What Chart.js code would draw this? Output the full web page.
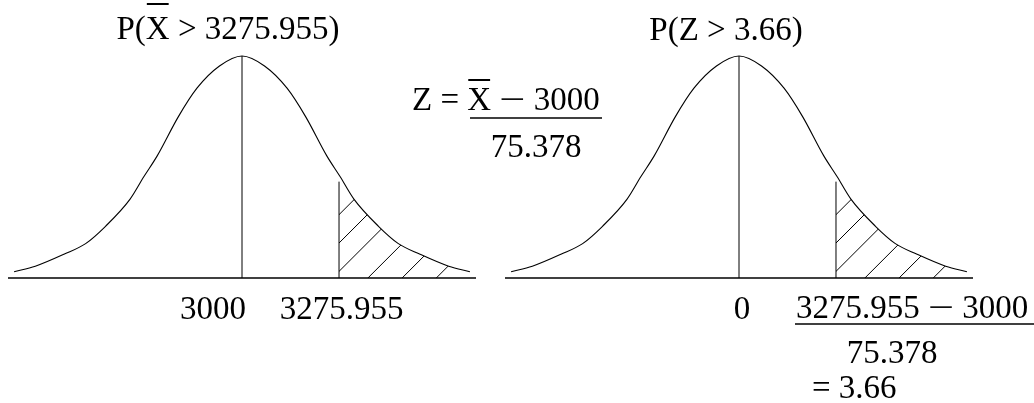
<!DOCTYPE html>
<html>
<head>
<meta charset="utf-8">
<script src="https://cdn.jsdelivr.net/npm/chart.js@4/dist/chart.umd.min.js"></script>
<style>
    body { margin: 0; background: #fff; }
    #wrap { position: relative; width: 1034px; height: 403px; overflow: hidden; }
    .panel { position: absolute; top: 0; }
    #leftPanel { left: 0; }
    #rightPanel { left: 500px; }
</style>
</head>
<body>
<div id="wrap">
    <div class="panel" id="leftPanel"><canvas id="leftChart" width="620" height="403"></canvas></div>
    <div class="panel" id="rightPanel"><canvas id="rightChart" width="534" height="403"></canvas></div>
</div>
<script>
// bell curve, read as (offset in standard units, height relative to the peak)
const curveZ = [-8.6, -7.8, -6.7, -5.9, -5.15, -4.23, -3.7, -3.2, -2.4, -1.7, -0.85, 0,
    0.85, 1.7, 2.4, 3.2, 3.7, 4.23, 5.15, 5.9, 6.7, 7.8, 8.6];
const curveHeight = [0.028, 0.053, 0.108, 0.155, 0.233, 0.354, 0.457, 0.55, 0.727, 0.855, 0.955, 1,
    0.955, 0.855, 0.727, 0.55, 0.457, 0.354, 0.233, 0.155, 0.108, 0.053, 0.028];

const meanLineHeight = 1;
const cutLineHeight = 0.434;
// where each hatch stroke meets the baseline, measured from the cut
const hatchOffsets = [-2.39, -1.32, -0.25, 1.09, 2.38, 3.67];

const populationMean = 3000;
const standardError = 75.378;
const sampleCut = 3275.955;
const zCut = 3.66;

const FONT = '33px "Liberation Serif", "Times New Roman", serif';
const BAR_X = { text: 'X', bar: true };
const MINUS = [' ', { text: '\u2212', stretch: 1.4 }, ' '];

// parts: strings, or {text, bar, stretch} for an overlined or widened glyph
function drawRun(ctx, xScale, t) {
    ctx.font = FONT;
    ctx.textAlign = 'left';
    ctx.textBaseline = 'alphabetic';
    const parts = t.parts.flat().map((p) => (typeof p === 'string' ? { text: p } : p));
    const widths = parts.map((p) => ctx.measureText(p.text).width * (p.stretch || 1));
    const total = widths.reduce((a, b) => a + b, 0);
    let x = t.at !== undefined ? xScale.getPixelForValue(t.at) + (t.dx || 0) : t.x;
    if (t.align === 'center') x -= total / 2;
    if (t.align === 'right') x -= total;
    parts.forEach((p, i) => {
        ctx.save();
        ctx.translate(x, t.y);
        ctx.scale(p.stretch || 1, 1);
        ctx.fillText(p.text, 0, 0);
        ctx.restore();
        if (p.bar) {
            ctx.fillRect(x + 1, t.y - (t.barRise || 33), widths[i] - 2, 2);
        }
        x += widths[i];
    });
}

function panelPlugin(panel) {
    return {
        id: 'normalPanel',
        afterDatasetsDraw(chart) {
            const { ctx, chartArea } = chart;
            const xs = chart.scales.x;
            const ys = chart.scales.y;
            const base = ys.getPixelForValue(0);
            const cx = xs.getPixelForValue(0);
            const cutX = xs.getPixelForValue(panel.cut);
            const line = chart.getDatasetMeta(0).dataset;
            const pts = line.points;

            // hatching under the tail, right of the cut
            ctx.save();
            ctx.beginPath();
            ctx.rect(cutX, chartArea.top - 10, xs.right - cutX, base - chartArea.top + 10);
            ctx.clip();
            ctx.beginPath();
            line.path(ctx);
            ctx.lineTo(pts[pts.length - 1].x, base);
            ctx.lineTo(pts[0].x, base);
            ctx.closePath();
            ctx.clip();
            ctx.strokeStyle = '#000';
            ctx.lineWidth = 1;
            hatchOffsets.forEach((off) => {
                const bx = xs.getPixelForValue(panel.cut + off);
                ctx.beginPath();
                ctx.moveTo(bx, base);
                ctx.lineTo(bx + 260, base - 260);
                ctx.stroke();
            });
            ctx.restore();

            ctx.save();
            ctx.strokeStyle = '#000';
            ctx.lineWidth = 1;
            ctx.beginPath();
            ctx.moveTo(cx, base);
            ctx.lineTo(cx, ys.getPixelForValue(meanLineHeight));
            ctx.moveTo(cutX, base);
            ctx.lineTo(cutX, ys.getPixelForValue(cutLineHeight));
            ctx.stroke();

            ctx.lineWidth = 1.4;
            ctx.beginPath();
            ctx.moveTo(xs.left, base);
            ctx.lineTo(xs.right, base);
            ctx.stroke();
            ctx.restore();
        },
        afterDraw(chart) {
            const { ctx } = chart;
            const xs = chart.scales.x;
            ctx.save();
            ctx.fillStyle = '#000';
            panel.texts.forEach((t) => drawRun(ctx, xs, t));
            ctx.strokeStyle = '#000';
            ctx.lineWidth = 1.3;
            panel.rules.forEach((r) => {
                ctx.beginPath();
                ctx.moveTo(r.x1, r.y);
                ctx.lineTo(r.x2, r.y);
                ctx.stroke();
            });
            ctx.restore();
        },
    };
}

function buildNormalPanel(canvas, panel) {
    return new Chart(canvas, {
        type: 'line',
        data: {
            datasets: [
                {
                    data: curveZ.map((z, i) => ({ x: z, y: curveHeight[i] })),
                    borderColor: '#000',
                    borderWidth: 1.1,
                    pointRadius: 0,
                    cubicInterpolationMode: 'monotone',
                    fill: false,
                    clip: false,
                },
            ],
        },
        options: {
            responsive: false,
            animation: false,
            events: [],
            layout: { padding: panel.padding },
            scales: {
                x: { type: 'linear', display: false, min: -8.83, max: 8.83 },
                y: { display: false, min: 0, max: 1 },
            },
            plugins: {
                legend: { display: false },
                tooltip: { enabled: false },
            },
        },
        plugins: [panelPlugin(panel)],
    });
}

const leftPanel = {
    cut: (sampleCut - populationMean) / standardError,
    padding: { left: 8, right: 144, top: 56, bottom: 125 },
    texts: [
        { parts: ['P(', BAR_X, ` > ${sampleCut})`], x: 228, y: 39, align: 'center', barRise: 36 },
        { parts: ['Z = ', BAR_X, MINUS, `${populationMean}`], x: 412, y: 110, barRise: 31 },
        { parts: [`${standardError}`], x: 536, y: 157, align: 'center' },
        { parts: [`${populationMean}`], at: 0, dx: 4, y: 319, align: 'right' },
        { parts: [`${sampleCut}`], at: (sampleCut - populationMean) / standardError, dx: 2.5, y: 319, align: 'center' },
    ],
    rules: [{ x1: 470, x2: 602, y: 118 }],
};

const rightPanel = {
    cut: zCut,
    padding: { left: 5, right: 61, top: 56, bottom: 125 },
    texts: [
        { parts: [`P(Z > ${zCut})`], x: 226, y: 40, align: 'center' },
        { parts: ['0'], at: 0, dx: 3, y: 318.5, align: 'center' },
        { parts: [`${sampleCut}`, MINUS, `${populationMean}`], x: 296, y: 318 },
        { parts: [`${standardError}`], x: 392, y: 363, align: 'center' },
        { parts: [`= ${zCut}`], x: 312, y: 398 },
    ],
    rules: [{ x1: 295, x2: 534, y: 324 }],
};

buildNormalPanel(document.getElementById('leftChart'), leftPanel);
buildNormalPanel(document.getElementById('rightChart'), rightPanel);
</script>
</body>
</html>
